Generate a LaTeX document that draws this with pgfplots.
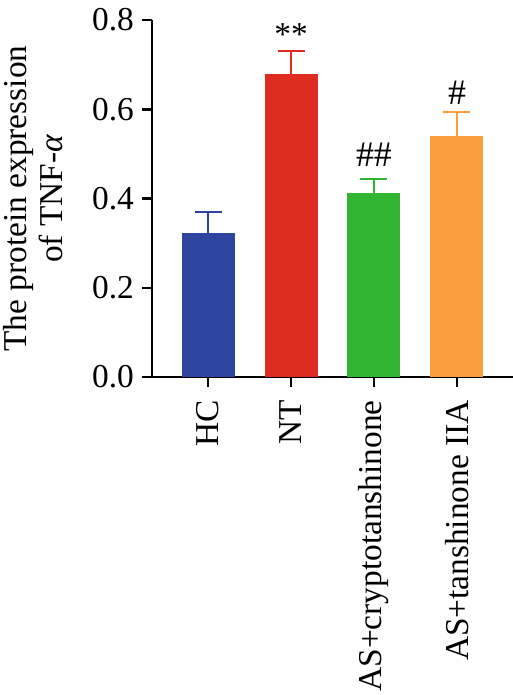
\documentclass[border=0pt]{standalone}
\usepackage{pgfplots}
\pgfplotsset{compat=1.18}
\usepackage{fontspec}
\setmainfont{Liberation Serif}
\definecolor{cblue}{RGB}{46,69,160}
\definecolor{cred}{RGB}{222,45,32}
\definecolor{cgreen}{RGB}{48,182,48}
\definecolor{corange}{RGB}{249,159,64}
\begin{document}
\begin{tikzpicture}
\begin{axis}[name=ax,
  scale only axis, width=361bp, height=357bp,
  xmin=-0.675, xmax=3.675, ymin=0, ymax=0.8,
  axis lines=left, axis line style={-, line width=2.5bp},
  clip=false,
  tick align=outside, major tick length=10bp,
  every tick/.style={black, line width=2.5bp},
  xtick={0,1,2,3},
  xticklabels={HC,NT,AS+cryptotanshinone,AS+tanshinone IIA},
  xticklabel style={rotate=90, anchor=east, inner xsep=13bp, font=\fontsize{33.5}{38}\selectfont},
  ytick={0,0.2,0.4,0.6,0.8},
  yticklabel style={inner xsep=8bp, font=\fontsize{33.5}{38}\selectfont, /pgf/number format/fixed, /pgf/number format/fixed zerofill, /pgf/number format/precision=1},
  /pgf/number format/assume math mode=true,
  ylabel={The protein expression\\of TNF-\textit{α}},
  ylabel style={align=center, font=\fontsize{33.5}{36}\selectfont, yshift=18bp},
  ybar, bar width=53bp, bar shift=0pt,
  error bars/y dir=plus, error bars/y explicit,
]
\addplot[fill=cblue, draw=none, error bars/error bar style={cblue, line width=2bp}, error bars/error mark options={rotate=90, cblue, line width=2bp, mark size=13.5bp}]
  coordinates {(0,0.323) +- (0,0.047)};
\addplot[fill=cred, draw=none, error bars/error bar style={cred, line width=2bp}, error bars/error mark options={rotate=90, cred, line width=2bp, mark size=13.5bp}]
  coordinates {(1,0.679) +- (0,0.052)};
\addplot[fill=cgreen, draw=none, error bars/error bar style={cgreen, line width=2bp}, error bars/error mark options={rotate=90, cgreen, line width=2bp, mark size=13.5bp}]
  coordinates {(2,0.413) +- (0,0.031)};
\addplot[fill=corange, draw=none, error bars/error bar style={corange, line width=2bp}, error bars/error mark options={rotate=90, corange, line width=2bp, mark size=13.5bp}]
  coordinates {(3,0.539) +- (0,0.055)};
\node[anchor=base, font=\fontsize{33.5}{38}\selectfont] at (axis cs:1,0.742) {**};
\node[anchor=base, font=\fontsize{36}{38}\selectfont] at (axis cs:2,0.471) {\#\#};
\node[anchor=base, font=\fontsize{36}{38}\selectfont] at (axis cs:3,0.61) {\#};
\end{axis}
\pgfresetboundingbox
\path ([shift={(-152bp,-318bp)}]ax.south west) rectangle ([shift={(0bp,20bp)}]ax.north east);
\end{tikzpicture}
\end{document}
